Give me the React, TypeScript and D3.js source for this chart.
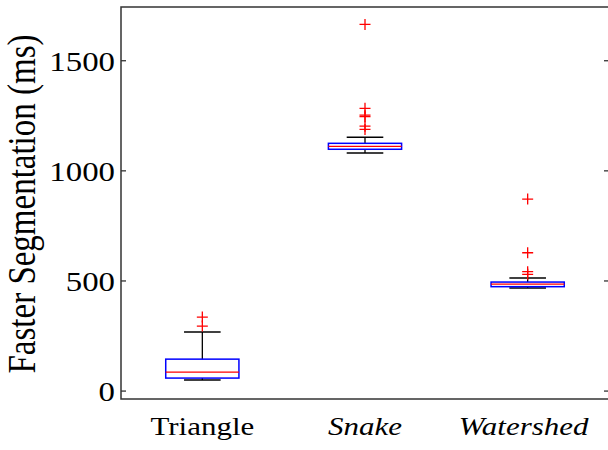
import * as d3 from "d3";

const categories = ["Triangle", "Snake", "Watershed"];
const lowerWhisker = [50, 1081, 468];
const q1 = [59, 1098, 474];
const medians = [86, 1111, 486];
const q3 = [145, 1125, 495];
const upperWhisker = [268, 1152, 513];
const outliers = [
  [295, 336],
  [1188, 1203, 1246, 1253, 1284, 1665],
  [530, 542, 628, 872],
];
const yTicks = [0, 500, 1000, 1500];

const W = 608;
const H = 450;
const left = 121;
const right = 609;
const top = 7;
const bottom = 399;
const stretch = 1.24;

const App = () => {
  const x = d3.scaleLinear().domain([0.5, 3.5]).range([left, right]);
  const y = d3.scaleLinear().domain([-36, 1744]).range([bottom, top]);
  const half = (x(1.45) - x(1)) / 2;
  const cap = half / 2;
  const font = "Times New Roman, Liberation Serif, Times, serif";

  return (
    <svg
      width={W}
      height={H}
      style={{ position: "absolute", left: 0, top: 0, background: "#fff" }}
    >
      {categories.map((c, i) => {
        const cx = x(i + 1);
        return (
          <g key={c}>
            <line x1={cx} x2={cx} y1={y(q3[i])} y2={y(upperWhisker[i])} stroke="#000" strokeWidth={1.3} />
            <line x1={cx} x2={cx} y1={y(q1[i])} y2={y(lowerWhisker[i])} stroke="#000" strokeWidth={1.3} />
            <line x1={cx - cap} x2={cx + cap} y1={y(upperWhisker[i])} y2={y(upperWhisker[i])} stroke="#000" strokeWidth={1.5} />
            <line x1={cx - cap} x2={cx + cap} y1={y(lowerWhisker[i])} y2={y(lowerWhisker[i])} stroke="#000" strokeWidth={1.5} />
            <rect
              x={cx - half}
              y={y(q3[i])}
              width={half * 2}
              height={y(q1[i]) - y(q3[i])}
              fill="none"
              stroke="#0000ff"
              strokeWidth={1.5}
            />
            <line x1={cx - half} x2={cx + half} y1={y(medians[i])} y2={y(medians[i])} stroke="#ff0000" strokeWidth={1.3} />
            {outliers[i].map((v, j) => (
              <path
                key={j}
                d={`M${cx - 5.5},${y(v)}H${cx + 5.5}M${cx},${y(v) - 5.5}V${y(v) + 5.5}`}
                stroke="#ff0000"
                strokeWidth={1.3}
                fill="none"
              />
            ))}
          </g>
        );
      })}

      <rect x={left} y={top} width={right - left} height={bottom - top} fill="none" stroke="#333" strokeWidth={1.5} />
      {yTicks.map((t) => (
        <g key={t}>
          <line x1={left} x2={left + 5} y1={y(t)} y2={y(t)} stroke="#333" strokeWidth={1.3} />
          <line x1={right - 5} x2={right} y1={y(t)} y2={y(t)} stroke="#333" strokeWidth={1.3} />
          <text
            transform={`translate(${left - 6},${y(t) + 9.8}) scale(${stretch},1)`}
            textAnchor="end"
            fontFamily={font}
            fontSize={26.5}
            fill="#000"
          >
            {t}
          </text>
        </g>
      ))}

      {categories.map((c, i) => (
        <text
          key={c}
          transform={`translate(${x(i + 1) + (i === 2 ? -4 : 0)},435) scale(${stretch},1)`}
          textAnchor="middle"
          fontFamily={font}
          fontStyle={c === "Triangle" ? "normal" : "italic"}
          fontSize={25}
          fill="#000"
        >
          {c}
        </text>
      ))}

      <text
        transform={`translate(35,204) scale(${stretch},1) rotate(-90)`}
        textAnchor="middle"
        fontFamily={font}
        fontSize={33}
        fill="#000"
      >
        Faster Segmentation (ms)
      </text>
    </svg>
  );
};

export default App;
